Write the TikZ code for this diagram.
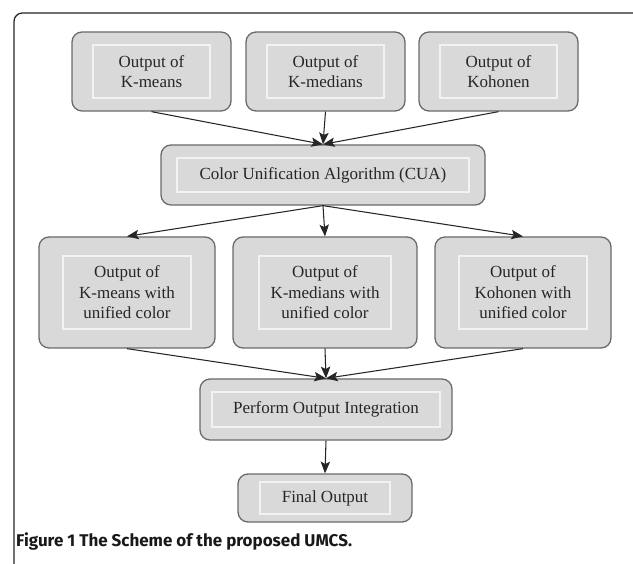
\documentclass[tikz,border=0pt]{standalone}
\usepackage{fontspec}
\setmainfont{Liberation Serif}
\setsansfont{Fira Sans}
\usetikzlibrary{arrows.meta}
\usepackage{xcolor}
\definecolor{boxfill}{HTML}{D9D9D9}
\definecolor{boxline}{HTML}{6A6A6A}
\definecolor{innerline}{HTML}{F2F2F2}

\begin{document}
\begin{tikzpicture} [x=0.03cm, y=-0.03cm,
  stage/.style n args={4}{draw=boxline, line width=1.1pt, fill=boxfill, rounded corners=0.3cm,
    minimum width=#1*0.03cm, minimum height=#2*0.03cm, align=center, inner sep=0pt,
    text=black!85, font=\fontsize{14.5}{17.5}\selectfont,
    path picture={\draw[innerline, line width=0.9pt, sharp corners]
      ([shift={(#3*0.03cm,#4*0.03cm)}]path picture bounding box.south west) rectangle
      ([shift={(-#3*0.03cm,-#4*0.03cm)}]path picture bounding box.north east);}},
  flow/.style={black!85, line width=0.9pt, -{Stealth[length=10pt,width=8pt,inset=2pt]}}]
\clip (0,0) rectangle (633,564);
\fill[white] (0,0) rectangle (633,564);
\draw[black!85, line width=1.1pt, rounded corners=0.25cm] (14,570) -- (14,13) -- (641,13) -- (641,40);

\node[stage={159}{79}{21}{13}] (km)   at (151.5,71.5) {Output of\\K-means};
\node[stage={159}{79}{21}{13}] (kmed) at (325.5,71.5) {Output of\\K-medians};
\node[stage={159}{79}{21}{13}] (koh)  at (498.5,71.5) {Output of\\Kohonen};
\node[stage={324}{60}{16}{13}] (cua)  at (323,175) {Color Unification Algorithm (CUA)};
\node[stage={176}{111}{24}{19}] (ukm)   at (127,292.5) {Output of\\K-means with\\unified color};
\node[stage={184}{111}{26}{19}] (ukmed) at (325,292.5) {Output of\\K-medians with\\unified color};
\node[stage={176}{111}{24}{19}] (ukoh)  at (523,292.5) {Output of\\Kohonen with\\unified color};
\node[stage={252}{61}{12}{13}] (perf) at (326,409.5) {Perform Output Integration};
\node[stage={174}{48}{22}{8}]  (fin)  at (325,498) {Final Output};

\foreach \s in {km, kmed, koh} {
 \draw[flow] (\s.south) -- (cua.north);
}
\foreach \t in {ukm, ukmed, ukoh} {
 \draw[flow] (cua.south) -- (\t.north);
 \draw[flow] (\t.south) -- (perf.north);
}
\draw[flow] (perf.south) -- (fin.north);

\node[anchor=base west, inner sep=0pt, font=\sffamily\bfseries\fontsize{14.5}{17}\selectfont, text=black!90] (cap) at (16,546) {Figure 1 The Scheme of the proposed UMCS.};
\end{tikzpicture}
\end{document}
